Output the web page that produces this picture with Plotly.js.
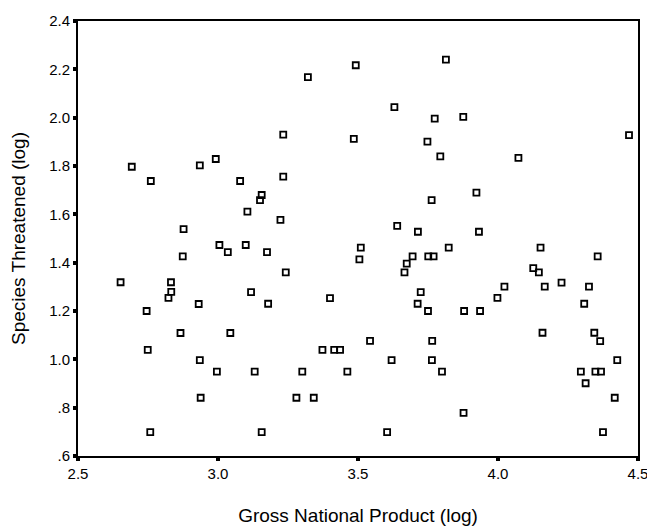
<!DOCTYPE html>
<html>
<head>
<meta charset="utf-8">
<script src="https://cdn.plot.ly/plotly-3.0.1.min.js"></script>
<style>html,body{margin:0;padding:0;background:#fff;}#chart{width:647px;height:531px;}</style>
</head>
<body>
<div id="chart"></div>
<script>
// Gross National Product (log)
const gnpLog = [
  2.692, 2.760, 2.877, 2.935, 2.992, 3.079, 3.233, 3.233, 3.156, 3.150,
  3.105, 3.223, 3.321, 3.492, 3.485, 3.630, 3.640, 3.714, 3.814, 3.774,
  3.876, 3.748, 3.794, 4.073, 3.923, 3.763, 3.932, 4.468, 2.652, 2.874,
  3.005, 3.035, 2.832, 2.833, 2.823, 2.745, 2.931, 2.866, 3.044, 2.749,
  2.935, 2.996, 2.938, 2.758, 3.099, 3.175, 3.242, 3.118, 3.179, 3.400,
  3.510, 3.505, 3.695, 3.674, 3.666, 3.724, 3.713, 3.543, 3.373, 3.415,
  3.436, 3.620, 3.131, 3.301, 3.462, 3.280, 3.342, 3.156, 3.604, 3.824,
  4.152, 3.751, 3.770, 4.356, 4.126, 4.146, 4.023, 4.167, 4.227, 4.325,
  3.998, 4.308, 3.750, 3.879, 3.936, 3.765, 4.159, 4.344, 4.365, 3.764,
  4.426, 3.800, 4.296, 4.348, 4.368, 4.313, 4.417, 3.877, 4.375
];
// Species Threatened (log)
const speciesLog = [
  1.797, 1.738, 1.539, 1.803, 1.829, 1.738, 1.930, 1.756, 1.680, 1.659,
  1.611, 1.577, 2.168, 2.217, 1.912, 2.044, 1.552, 1.528, 2.240, 1.996,
  2.003, 1.901, 1.840, 1.834, 1.690, 1.659, 1.528, 1.928, 1.319, 1.426,
  1.473, 1.444, 1.319, 1.279, 1.254, 1.200, 1.229, 1.109, 1.109, 1.039,
  0.997, 0.949, 0.841, 0.699, 1.473, 1.444, 1.360, 1.278, 1.230, 1.253,
  1.462, 1.414, 1.426, 1.396, 1.360, 1.278, 1.230, 1.076, 1.039, 1.039,
  1.039, 0.997, 0.949, 0.949, 0.949, 0.841, 0.841, 0.699, 0.699, 1.462,
  1.462, 1.426, 1.426, 1.426, 1.377, 1.360, 1.301, 1.301, 1.317, 1.301,
  1.254, 1.230, 1.200, 1.200, 1.200, 1.076, 1.110, 1.110, 1.075, 0.997,
  0.997, 0.949, 0.949, 0.949, 0.949, 0.901, 0.841, 0.778, 0.699
];
const xTickVals = [2.5, 3.0, 3.5, 4.0, 4.5];
const xTickText = ["2.5", "3.0", "3.5", "4.0", "4.5"];
const yTickVals = [0.6, 0.8, 1.0, 1.2, 1.4, 1.6, 1.8, 2.0, 2.2, 2.4];
const yTickText = [".6", ".8", "1.0", "1.2", "1.4", "1.6", "1.8", "2.0", "2.2", "2.4"];

const trace = {
  x: gnpLog,
  y: speciesLog,
  type: 'scatter',
  mode: 'markers',
  cliponaxis: false,
  marker: {symbol: 'square-open', size: 6, color: '#000', line: {width: 1.8, color: '#000'}},
  hoverinfo: 'x+y'
};

const font = {family: '"Liberation Sans", Arial, sans-serif', color: '#000'};
const layout = {
  width: 647, height: 531,
  margin: {l: 78, r: 9, t: 21, b: 75},
  paper_bgcolor: '#fff', plot_bgcolor: '#fff',
  showlegend: false,
  font: Object.assign({size: 15}, font),
  xaxis: {
    range: [2.4999, 4.5001], tickvals: xTickVals, ticktext: xTickText,
    showgrid: false, zeroline: false,
    showline: true, linewidth: 2, linecolor: '#000', mirror: true,
    ticks: 'outside', ticklen: 3, tickwidth: 4, tickcolor: '#000',
    tickfont: Object.assign({size: 15}, font),
    ticklabeloverflow: 'allow',
    automargin: false,
    title: {text: 'Gross National Product (log)', font: Object.assign({size: 19}, font), standoff: 28}
  },
  yaxis: {
    range: [0.5999, 2.4001], tickvals: yTickVals, ticktext: yTickText,
    showgrid: false, zeroline: false,
    showline: true, linewidth: 2, linecolor: '#000', mirror: true,
    ticks: 'outside', ticklen: 3, tickwidth: 4, tickcolor: '#000',
    tickfont: Object.assign({size: 15}, font),
    ticklabeloverflow: 'allow',
    automargin: false,
    title: {text: 'Species Threatened (log)', font: Object.assign({size: 19}, font), standoff: 18}
  }
};

Plotly.newPlot('chart', [trace], layout, {displayModeBar: false, staticPlot: true});
</script>
</body>
</html>
